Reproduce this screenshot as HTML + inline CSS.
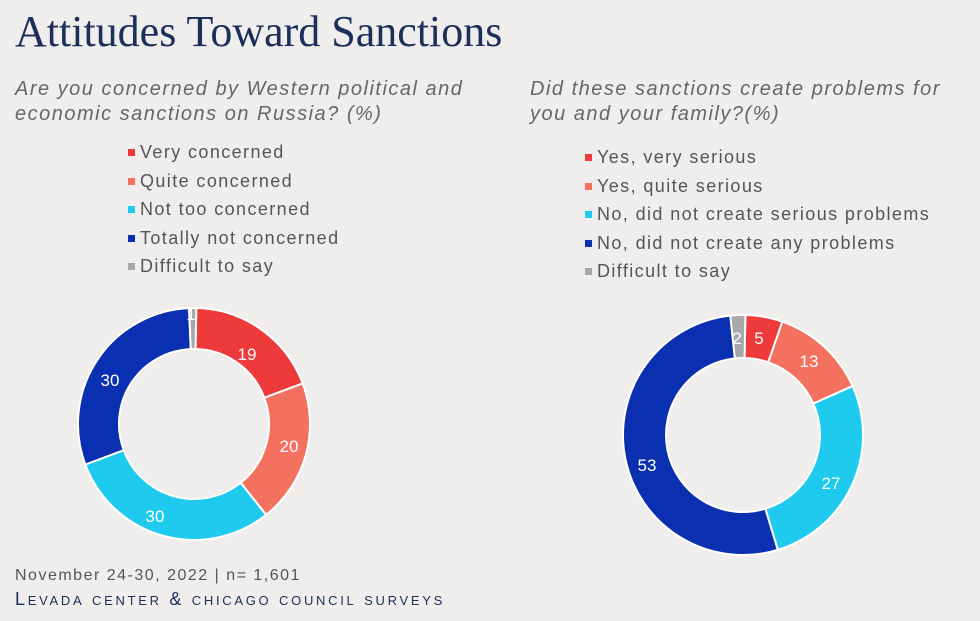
<!DOCTYPE html>
<html><head><meta charset="utf-8"><style>
body{margin:0;width:980px;height:621px;background:#efeeec;overflow:hidden;position:relative;font-family:"Liberation Sans",sans-serif}
.t{position:absolute;left:15px;top:6px;font-family:"Liberation Serif",serif;font-size:44px;color:#1b2f5a}
.q{position:absolute;font-style:italic;font-size:20px;letter-spacing:1.5px;color:#666;line-height:25px}
.lg{position:absolute;font-size:18px;letter-spacing:1.4px;color:#555}
.lg div{height:28.5px;position:relative;padding-left:12px;white-space:nowrap}
.lg span{position:absolute;left:0;top:7px;width:7px;height:7px}
.f{position:absolute;left:15px;top:567px;font-size:16px;letter-spacing:1.5px;color:#555}
.s{position:absolute;left:15px;top:589px;font-size:18px;color:#1b2f5a;font-variant:small-caps;letter-spacing:2.7px}
</style></head><body>
<div class="t">Attitudes Toward Sanctions</div>
<div class="q" style="left:15px;top:77px">Are you concerned by Western political and<br>economic sanctions on Russia? (%)</div>
<div class="q" style="left:530px;top:77px">Did these sanctions create problems for<br>you and your family?(%)</div>
<div class="lg" style="left:128px;top:142px">
<div><span style="background:#ee3a3a"></span>Very concerned</div>
<div><span style="background:#f4705f"></span>Quite concerned</div>
<div><span style="background:#1ecbef"></span>Not too concerned</div>
<div><span style="background:#0a2fb0"></span>Totally not concerned</div>
<div><span style="background:#a8a8a8"></span>Difficult to say</div></div>
<div class="lg" style="left:585px;top:147px">
<div><span style="background:#ee3a3a"></span>Yes, very serious</div>
<div><span style="background:#f4705f"></span>Yes, quite serious</div>
<div><span style="background:#1ecbef"></span>No, did not create serious problems</div>
<div><span style="background:#0a2fb0"></span>No, did not create any problems</div>
<div><span style="background:#a8a8a8"></span>Difficult to say</div></div>
<svg id="sv" width="980" height="621" style="position:absolute;left:0;top:0"></svg>
<div class="f">November 24-30, 2022 | n= 1,601</div>
<div class="s">Levada center &amp; chicago council surveys</div>
<script>
var C=["#ee3a3a","#f4705f","#1ecbef","#0a2fb0","#a8a8a8"];
function donut(cx,cy,R,r,vals,off,labels){
 var s="",a=off,tot=vals.reduce((x,y)=>x+y,0);
 vals.forEach(function(v,i){
  var a0=a,a1=a+v/tot*2*Math.PI;a=a1;
  function p(rr,t){return [cx+rr*Math.sin(t),cy-rr*Math.cos(t)]}
  var L=(a1-a0)>Math.PI?1:0,P1=p(R,a0),P2=p(R,a1),P3=p(r,a1),P4=p(r,a0);
  s+='<path d="M'+P1+'A'+R+','+R+' 0 '+L+' 1 '+P2+'L'+P3+'A'+r+','+r+' 0 '+L+' 0 '+P4+'Z" fill="'+C[i]+'" stroke="#fff" stroke-width="2"/>';
 });
 s+='<circle cx="'+cx+'" cy="'+cy+'" r="'+(r-1)+'" fill="#efeeec"/>';
 labels.forEach(function(l){s+='<text x="'+l[1]+'" y="'+l[2]+'" fill="#fff" font-size="17" font-family="Liberation Sans,sans-serif" text-anchor="middle">'+l[0]+'</text>'});
 return s;
}
document.getElementById("sv").innerHTML=
 donut(194,424,116,75,[19,20,30,30,1],0.02,[["19",247,360],["20",289,452],["30",155,522],["30",110,386],["1",191,320]])+
 donut(743,435,120,77,[5,13,27,53,2],0.02,[["2",737,344],["5",759,344],["13",809,367],["27",831,489],["53",647,471]]);
</script>
</body></html>
